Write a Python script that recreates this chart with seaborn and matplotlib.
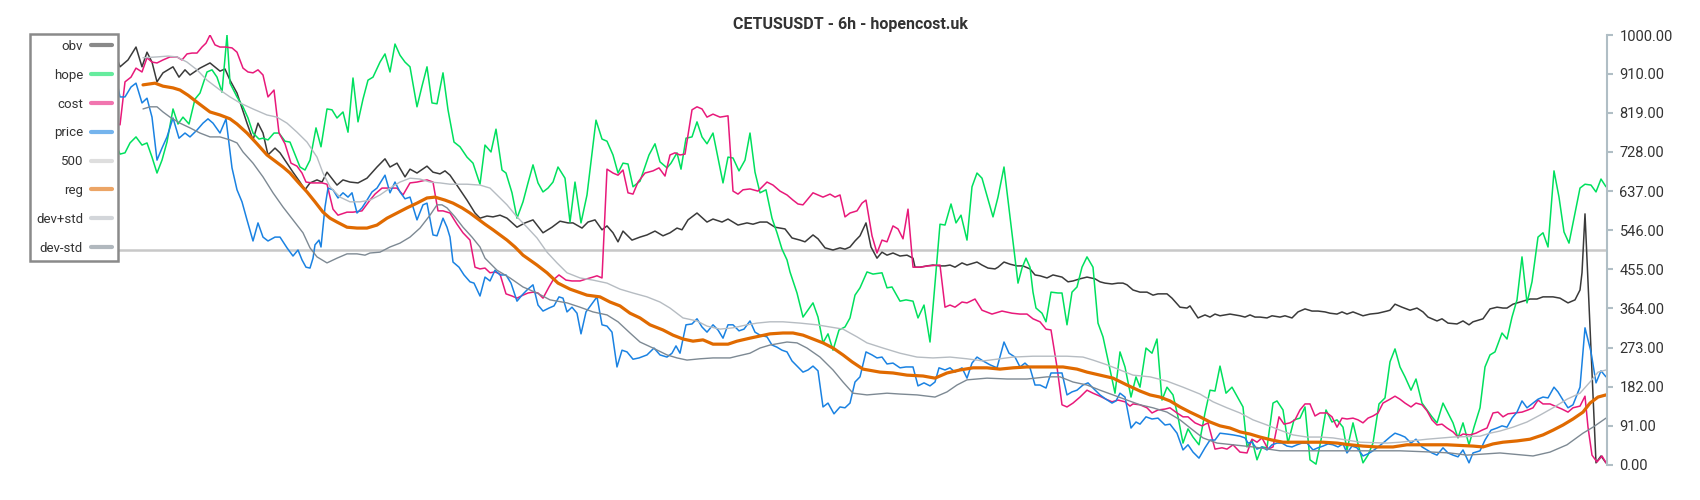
import matplotlib
matplotlib.use("Agg")
from matplotlib import pyplot as plt
import seaborn as sns

# time positions (t) and values
obv = [(111, 942), (115, 960), (120, 926), (128, 942), (136, 972), (142, 926), (147, 960), (152, 937),
       (157, 891), (163, 912), (173, 926), (179, 902), (185, 919), (190, 907), (200, 923), (210, 935),
       (220, 916), (225, 921), (230, 895), (237, 865), (247, 795), (253, 756), (258, 795), (263, 772),
       (268, 721), (275, 737), (280, 726), (287, 702), (293, 681), (300, 658), (305, 640), (310, 656),
       (317, 663), (322, 658), (327, 681), (337, 651), (343, 663), (350, 658), (358, 656), (367, 667),
       (377, 693), (385, 712), (390, 693), (397, 702), (405, 670), (410, 688), (417, 679), (427, 695),
       (433, 681), (440, 677), (445, 684), (450, 674), (458, 647), (467, 616), (475, 586), (480, 574),
       (487, 579), (493, 577), (500, 581), (507, 574), (517, 553), (525, 563), (533, 570), (543, 540),
       (552, 553), (560, 567), (568, 563), (573, 563), (582, 551), (588, 565), (595, 570), (602, 547),
       (607, 556), (613, 540), (618, 519), (623, 544), (632, 523), (640, 530), (647, 535), (655, 544),
       (663, 533), (670, 540), (677, 551), (682, 547), (688, 570), (697, 586), (707, 565), (713, 572),
       (722, 565), (728, 572), (738, 558), (747, 563), (753, 560), (760, 565), (767, 565), (775, 553),
       (785, 549), (792, 528), (800, 523), (805, 519), (813, 535), (818, 526), (825, 505), (833, 500),
       (840, 505), (845, 502), (850, 507), (855, 521), (860, 533), (866, 563), (871, 507), (877, 481),
       (882, 495), (887, 488), (893, 493), (900, 486), (907, 488), (913, 481), (915, 460), (920, 460),
       (927, 463), (933, 465), (940, 463), (945, 463), (950, 465), (955, 460), (962, 470), (967, 465),
       (977, 472), (982, 465), (988, 458), (995, 456), (998, 460), (1004, 472), (1010, 467), (1017, 463),
       (1023, 463), (1030, 456), (1035, 442), (1040, 440), (1047, 435), (1053, 442), (1062, 437),
       (1068, 426), (1073, 428), (1080, 433), (1087, 437), (1095, 433), (1100, 426), (1105, 423),
       (1112, 421), (1118, 423), (1123, 423), (1127, 419), (1133, 407), (1140, 402), (1147, 402),
       (1153, 395), (1158, 398), (1167, 398), (1172, 388), (1180, 367), (1187, 365), (1190, 370),
       (1198, 342), (1205, 349), (1210, 344), (1215, 351), (1220, 347), (1230, 351), (1240, 347),
       (1245, 344), (1250, 349), (1255, 344), (1260, 344), (1267, 342), (1272, 347), (1280, 344),
       (1285, 347), (1292, 342), (1298, 356), (1305, 363), (1312, 358), (1318, 358), (1325, 356),
       (1330, 353), (1337, 351), (1342, 356), (1347, 351), (1353, 356), (1363, 347), (1370, 351),
       (1378, 353), (1387, 358), (1390, 360), (1395, 374), (1402, 367), (1410, 360), (1417, 365),
       (1423, 356), (1428, 344), (1437, 335), (1442, 340), (1448, 330), (1457, 328), (1463, 335),
       (1469, 326), (1473, 333), (1483, 340), (1490, 363), (1497, 367), (1503, 365), (1507, 365),
       (1513, 374), (1520, 379), (1530, 386), (1537, 386), (1543, 391), (1553, 391), (1560, 388),
       (1568, 377), (1575, 384), (1580, 407), (1582, 447), (1585, 584), (1596, 5), (1601, 21), (1606, 5)]

hope = [(111, 751), (115, 751), (120, 723), (125, 726), (130, 749), (136, 763), (142, 744), (147, 749),
        (152, 716), (157, 679), (162, 709), (167, 751), (173, 828), (178, 793), (183, 809), (189, 793),
        (195, 851), (200, 865), (207, 914), (212, 919), (217, 902), (222, 867), (227, 1000), (230, 888),
        (237, 856), (243, 833), (248, 807), (253, 772), (259, 758), (263, 760), (268, 756), (274, 772),
        (279, 772), (285, 753), (290, 751), (296, 716), (300, 693), (305, 686), (310, 709), (316, 784),
        (321, 740), (327, 828), (332, 826), (337, 807), (343, 821), (348, 774), (353, 900), (358, 798),
        (363, 851), (368, 895), (373, 902), (380, 937), (385, 956), (390, 914), (395, 979), (400, 953),
        (405, 937), (410, 926), (417, 833), (422, 881), (427, 926), (432, 842), (437, 840), (443, 912),
        (448, 826), (454, 751), (460, 740), (467, 716), (473, 702), (480, 653), (485, 744), (491, 728),
        (496, 781), (502, 686), (506, 679), (512, 633), (517, 574), (523, 612), (528, 656), (533, 698),
        (538, 656), (543, 635), (548, 644), (553, 658), (558, 693), (565, 667), (570, 565), (575, 658),
        (581, 563), (587, 628), (596, 802), (602, 758), (607, 753), (613, 721), (618, 679), (623, 702),
        (628, 700), (633, 647), (640, 660), (649, 721), (655, 747), (660, 705), (667, 691), (671, 702),
        (677, 726), (681, 688), (686, 760), (692, 763), (697, 798), (702, 763), (707, 747), (713, 772),
        (717, 726), (723, 656), (728, 716), (733, 714), (739, 684), (745, 709), (750, 772), (755, 681),
        (760, 633), (766, 640), (772, 574), (777, 540), (782, 502), (787, 477), (790, 449), (797, 400),
        (803, 344), (813, 377), (818, 344), (823, 284), (828, 305), (833, 267), (839, 314), (845, 321),
        (850, 342), (855, 395), (860, 412), (867, 449), (873, 444), (882, 447), (887, 412), (892, 414),
        (900, 381), (906, 384), (913, 381), (918, 342), (924, 372), (930, 286), (933, 367), (940, 560),
        (945, 558), (951, 607), (956, 563), (961, 581), (967, 523), (972, 647), (977, 679), (982, 667),
        (993, 577), (998, 623), (1004, 693), (1018, 423), (1022, 458), (1026, 481), (1030, 460),
        (1033, 402), (1036, 365), (1042, 353), (1046, 333), (1051, 402), (1058, 400), (1062, 400),
        (1067, 326), (1072, 402), (1077, 414), (1082, 460), (1087, 484), (1093, 460), (1098, 330),
        (1103, 298), (1108, 244), (1115, 167), (1120, 263), (1125, 228), (1131, 158), (1136, 205),
        (1140, 181), (1146, 272), (1152, 260), (1157, 293), (1162, 151), (1167, 181), (1173, 163),
        (1178, 112), (1183, 51), (1188, 84), (1193, 65), (1199, 47), (1205, 121), (1210, 174),
        (1215, 172), (1220, 230), (1226, 167), (1232, 181), (1237, 160), (1243, 135), (1247, 42),
        (1252, 58), (1257, 12), (1262, 42), (1267, 40), (1273, 144), (1277, 149), (1283, 128), (1288, 51),
        (1294, 105), (1300, 109), (1305, 135), (1310, 12), (1316, 2), (1321, 58), (1326, 128), (1332, 100),
        (1337, 105), (1343, 88), (1347, 35), (1353, 98), (1358, 49), (1363, 5), (1368, 23), (1373, 51),
        (1379, 142), (1385, 156), (1390, 240), (1395, 270), (1400, 228), (1405, 205), (1411, 174),
        (1416, 200), (1422, 144), (1427, 128), (1432, 112), (1437, 98), (1443, 144), (1448, 121),
        (1453, 98), (1458, 63), (1463, 98), (1469, 47), (1474, 88), (1480, 133), (1485, 228), (1490, 256),
        (1495, 263), (1502, 307), (1507, 293), (1512, 344), (1517, 384), (1522, 484), (1527, 377),
        (1532, 426), (1538, 530), (1543, 540), (1548, 507), (1554, 684), (1559, 623), (1564, 542),
        (1569, 516), (1575, 586), (1580, 644), (1585, 653), (1591, 651), (1596, 635), (1601, 665),
        (1606, 647)]

cost = [(111, 656), (115, 798), (120, 791), (125, 891), (131, 902), (136, 923), (142, 914), (147, 947),
        (152, 937), (157, 935), (163, 942), (170, 949), (177, 949), (182, 942), (187, 956), (192, 958),
        (197, 958), (202, 972), (206, 981), (210, 1000), (215, 977), (220, 972), (226, 972), (232, 970),
        (237, 960), (243, 923), (248, 914), (253, 912), (258, 919), (263, 907), (268, 856), (274, 872),
        (279, 772), (285, 747), (291, 702), (297, 695), (302, 679), (306, 658), (312, 656), (317, 656),
        (322, 656), (327, 653), (333, 595), (338, 581), (347, 588), (353, 588), (362, 591), (370, 616),
        (375, 630), (382, 644), (388, 644), (397, 644), (403, 628), (410, 656), (417, 658), (427, 663),
        (433, 658), (438, 591), (443, 591), (450, 586), (457, 560), (463, 540), (470, 523), (475, 460),
        (480, 456), (485, 458), (490, 447), (495, 449), (500, 444), (506, 398), (512, 393), (517, 388),
        (523, 395), (528, 400), (533, 402), (538, 400), (543, 388), (549, 414), (553, 430), (559, 442),
        (566, 430), (572, 428), (580, 428), (587, 433), (593, 437), (597, 440), (602, 435), (607, 688),
        (613, 679), (618, 674), (623, 686), (628, 633), (633, 630), (638, 658), (645, 679), (653, 684),
        (659, 691), (665, 672), (670, 721), (675, 726), (680, 721), (685, 723), (692, 826), (697, 833),
        (702, 828), (707, 809), (713, 816), (720, 809), (728, 812), (733, 637), (738, 630), (743, 640),
        (750, 642), (758, 637), (767, 658), (773, 651), (780, 637), (787, 628), (793, 616), (798, 607),
        (803, 605), (813, 633), (823, 623), (830, 630), (835, 623), (840, 628), (845, 577), (850, 586),
        (857, 591), (862, 609), (866, 616), (872, 533), (877, 493), (882, 523), (887, 519), (893, 556),
        (898, 549), (903, 526), (908, 595), (913, 460), (920, 460), (928, 463), (940, 465), (945, 367),
        (950, 372), (955, 367), (962, 379), (967, 377), (975, 386), (982, 360), (992, 351), (1002, 358),
        (1012, 353), (1020, 351), (1027, 351), (1033, 340), (1040, 333), (1046, 316), (1051, 314),
        (1057, 228), (1062, 140), (1067, 135), (1073, 144), (1080, 158), (1087, 174), (1093, 167),
        (1100, 160), (1106, 153), (1112, 147), (1118, 151), (1125, 147), (1130, 137), (1133, 142),
        (1140, 140), (1147, 133), (1152, 121), (1158, 128), (1165, 130), (1170, 133), (1177, 121),
        (1183, 112), (1188, 112), (1195, 98), (1202, 91), (1208, 98), (1215, 37), (1222, 40), (1227, 37),
        (1233, 47), (1240, 30), (1247, 28), (1252, 60), (1257, 53), (1262, 63), (1268, 37), (1273, 42),
        (1279, 112), (1284, 95), (1290, 98), (1295, 105), (1300, 128), (1305, 142), (1310, 142),
        (1315, 114), (1320, 121), (1327, 121), (1332, 112), (1337, 88), (1342, 109), (1347, 107),
        (1353, 109), (1358, 105), (1363, 98), (1368, 109), (1373, 114), (1378, 121), (1383, 144),
        (1390, 153), (1395, 160), (1400, 153), (1405, 144), (1411, 135), (1416, 144), (1422, 140),
        (1427, 126), (1432, 105), (1437, 93), (1442, 95), (1447, 86), (1453, 77), (1458, 65), (1463, 72),
        (1470, 70), (1476, 74), (1482, 81), (1487, 86), (1493, 121), (1498, 123), (1503, 112), (1508, 119),
        (1515, 121), (1522, 123), (1528, 128), (1533, 133), (1538, 151), (1543, 142), (1550, 142),
        (1555, 137), (1562, 130), (1568, 123), (1573, 133), (1580, 137), (1585, 160), (1588, 88),
        (1592, 23), (1597, 7), (1602, 21), (1606, 5)]

price = [(111, 914), (115, 912), (120, 856), (125, 856), (131, 879), (136, 888), (142, 842), (147, 853),
         (152, 809), (157, 709), (162, 737), (167, 763), (173, 807), (179, 760), (185, 772), (190, 763),
         (197, 779), (203, 795), (208, 805), (213, 795), (220, 772), (226, 805), (232, 691), (237, 640),
         (242, 612), (247, 570), (253, 521), (258, 563), (263, 530), (268, 521), (275, 530), (280, 530),
         (287, 505), (293, 486), (298, 500), (302, 477), (306, 460), (310, 458), (313, 481), (315, 512),
         (319, 523), (321, 507), (325, 600), (328, 644), (333, 640), (338, 621), (343, 633), (348, 623),
         (352, 633), (357, 586), (362, 598), (367, 616), (372, 635), (377, 644), (385, 674), (390, 633),
         (395, 658), (400, 635), (405, 619), (410, 623), (417, 570), (423, 605), (427, 609), (433, 535),
         (437, 533), (443, 574), (447, 553), (450, 530), (453, 472), (459, 460), (464, 442), (470, 426),
         (474, 423), (480, 393), (485, 437), (490, 428), (495, 453), (500, 442), (506, 442), (511, 423),
         (517, 381), (522, 395), (527, 407), (533, 419), (538, 372), (543, 358), (549, 365), (554, 370),
         (559, 391), (563, 388), (567, 356), (572, 367), (577, 353), (581, 305), (586, 356), (591, 372),
         (597, 391), (602, 326), (607, 323), (612, 309), (617, 228), (622, 267), (627, 263), (633, 246),
         (639, 249), (647, 256), (654, 272), (660, 256), (667, 251), (672, 260), (676, 277), (680, 260),
         (686, 326), (692, 328), (697, 340), (702, 321), (707, 309), (713, 326), (718, 314), (723, 295),
         (728, 326), (733, 326), (739, 312), (744, 316), (750, 335), (755, 309), (760, 302), (767, 298),
         (772, 279), (777, 274), (782, 267), (787, 263), (792, 242), (798, 228), (803, 216), (808, 221),
         (813, 230), (818, 219), (823, 135), (828, 144), (834, 119), (840, 135), (845, 133), (850, 144),
         (855, 193), (860, 205), (866, 263), (872, 256), (877, 249), (882, 251), (887, 235), (893, 237),
         (900, 226), (906, 228), (913, 228), (918, 184), (924, 191), (930, 184), (935, 193), (939, 226),
         (945, 221), (950, 226), (955, 216), (962, 226), (967, 202), (972, 237), (977, 251), (983, 242),
         (990, 233), (997, 226), (1004, 286), (1009, 260), (1015, 251), (1020, 228), (1025, 237),
         (1030, 226), (1035, 186), (1040, 186), (1046, 179), (1051, 214), (1057, 214), (1062, 214),
         (1067, 163), (1072, 170), (1077, 174), (1083, 186), (1088, 191), (1093, 179), (1100, 163),
         (1106, 153), (1112, 144), (1116, 149), (1120, 167), (1125, 158), (1131, 86), (1136, 100),
         (1140, 95), (1146, 112), (1152, 107), (1158, 109), (1165, 93), (1170, 95), (1177, 74), (1183, 35),
         (1188, 47), (1193, 30), (1199, 16), (1205, 40), (1210, 58), (1215, 58), (1220, 74), (1227, 72),
         (1233, 70), (1240, 67), (1245, 63), (1248, 51), (1252, 53), (1257, 37), (1262, 42), (1267, 35),
         (1272, 47), (1277, 51), (1282, 51), (1287, 44), (1292, 42), (1297, 47), (1302, 51), (1307, 51),
         (1313, 35), (1318, 40), (1323, 44), (1328, 49), (1333, 47), (1338, 42), (1343, 49), (1347, 28),
         (1352, 44), (1357, 40), (1363, 21), (1368, 26), (1373, 33), (1378, 42), (1383, 51), (1390, 65),
         (1395, 74), (1400, 70), (1405, 65), (1411, 51), (1416, 60), (1422, 42), (1427, 35), (1432, 28),
         (1437, 23), (1443, 40), (1448, 28), (1453, 23), (1458, 19), (1463, 35), (1469, 5), (1473, 28),
         (1480, 33), (1485, 58), (1491, 81), (1497, 86), (1502, 91), (1507, 88), (1512, 109), (1517, 123),
         (1522, 149), (1527, 133), (1533, 144), (1538, 153), (1543, 158), (1548, 156), (1554, 181),
         (1558, 170), (1563, 151), (1568, 133), (1573, 140), (1580, 181), (1585, 319), (1591, 263),
         (1596, 191), (1601, 219), (1606, 205)]

reg = [(143, 884), (155, 888), (163, 881), (173, 877), (180, 872), (188, 860), (198, 842), (210, 821),
       (220, 814), (230, 805), (237, 793), (247, 772), (257, 747), (267, 721), (275, 707), (283, 693),
       (290, 679), (298, 658), (307, 635), (315, 612), (323, 588), (330, 574), (337, 565), (347, 553),
       (357, 551), (367, 551), (377, 558), (387, 574), (397, 586), (407, 598), (417, 609), (427, 621),
       (435, 623), (445, 616), (453, 609), (462, 598), (470, 586), (477, 574), (485, 560), (493, 547),
       (500, 535), (507, 523), (515, 507), (523, 488), (537, 465), (547, 447), (558, 423), (570, 409),
       (587, 395), (600, 391), (610, 379), (620, 370), (630, 353), (640, 342), (650, 326), (663, 314),
       (673, 302), (683, 293), (693, 288), (703, 291), (713, 281), (728, 281), (737, 288), (750, 295),
       (760, 300), (770, 305), (783, 307), (793, 307), (803, 302), (813, 293), (823, 284), (833, 272),
       (843, 256), (852, 240), (863, 223), (880, 216), (893, 214), (907, 209), (923, 207), (935, 202),
       (947, 214), (960, 221), (973, 226), (987, 226), (1000, 223), (1013, 226), (1027, 228), (1040, 228),
       (1053, 228), (1063, 228), (1077, 223), (1087, 216), (1100, 209), (1113, 202), (1127, 186),
       (1140, 172), (1150, 163), (1160, 158), (1170, 149), (1180, 135), (1190, 123), (1200, 112),
       (1210, 100), (1220, 91), (1230, 86), (1240, 77), (1250, 72), (1260, 65), (1272, 58), (1283, 53),
       (1297, 53), (1310, 53), (1323, 53), (1337, 51), (1350, 47), (1363, 44), (1377, 42), (1393, 42),
       (1407, 47), (1420, 47), (1447, 47), (1473, 44), (1483, 42), (1493, 49), (1503, 53), (1517, 56),
       (1530, 60), (1543, 70), (1553, 81), (1563, 93), (1573, 107), (1583, 123), (1590, 144), (1598, 158),
       (1606, 163)]

dev_plus = [(143, 947), (157, 949), (168, 951), (177, 949), (187, 937), (197, 919), (207, 895), (220, 872),
            (230, 856), (240, 842), (253, 828), (267, 814), (277, 809), (287, 795), (297, 774), (307, 751),
            (317, 716), (323, 679), (330, 647), (340, 623), (350, 612), (360, 612), (370, 616), (380, 628),
            (390, 644), (400, 658), (410, 667), (420, 665), (430, 658), (440, 656), (450, 653), (467, 653),
            (480, 651), (490, 644), (497, 628), (507, 605), (517, 577), (527, 553), (537, 528), (547, 495),
            (557, 470), (567, 447), (580, 435), (593, 430), (607, 423), (620, 409), (633, 400), (647, 391),
            (660, 379), (670, 365), (683, 342), (697, 335), (707, 323), (720, 316), (733, 319), (747, 326),
            (757, 330), (770, 333), (783, 333), (800, 330), (817, 326), (830, 321), (843, 316), (857, 298),
            (867, 284), (883, 272), (900, 260), (917, 251), (933, 249), (950, 251), (967, 247), (983, 242),
            (1000, 247), (1013, 251), (1033, 253), (1067, 253), (1083, 251), (1093, 244), (1107, 233),
            (1120, 221), (1133, 209), (1150, 205), (1167, 195), (1183, 181), (1200, 165), (1213, 147),
            (1227, 133), (1240, 121), (1253, 105), (1267, 93), (1280, 81), (1293, 70), (1307, 65),
            (1320, 65), (1333, 63), (1347, 58), (1360, 53), (1387, 51), (1400, 53), (1427, 60), (1453, 65),
            (1480, 67), (1490, 74), (1500, 79), (1513, 88), (1527, 100), (1540, 116), (1553, 133),
            (1567, 153), (1580, 167), (1590, 193), (1598, 216), (1606, 221)]

dev_minus = [(143, 828), (150, 833), (157, 833), (163, 821), (170, 809), (180, 795), (190, 784), (200, 772),
             (210, 763), (220, 763), (230, 756), (237, 749), (243, 728), (253, 702), (263, 670), (273, 633),
             (283, 600), (293, 570), (303, 540), (310, 505), (317, 484), (327, 470), (337, 481), (347, 491),
             (357, 491), (365, 488), (370, 493), (380, 495), (390, 507), (400, 516), (410, 530), (420, 551),
             (430, 581), (437, 605), (442, 605), (447, 598), (455, 577), (463, 553), (472, 530), (480, 507),
             (485, 481), (497, 453), (510, 435), (523, 414), (537, 400), (550, 384), (567, 377), (580, 367),
             (593, 356), (607, 349), (618, 333), (630, 307), (640, 286), (653, 272), (667, 256), (677, 249),
             (687, 244), (700, 247), (713, 249), (730, 249), (737, 253), (750, 260), (760, 272), (770, 279),
             (787, 286), (797, 284), (807, 272), (820, 251), (833, 221), (843, 193), (853, 167), (867, 163),
             (887, 167), (900, 165), (917, 163), (935, 158), (947, 170), (957, 186), (967, 198), (987, 202),
             (1007, 200), (1027, 200), (1047, 205), (1060, 205), (1073, 193), (1087, 186), (1100, 174),
             (1113, 163), (1127, 151), (1140, 140), (1153, 133), (1167, 123), (1180, 105), (1193, 81),
             (1203, 63), (1217, 51), (1233, 47), (1253, 42), (1280, 33), (1333, 33), (1400, 33), (1433, 30),
             (1450, 28), (1467, 23), (1500, 28), (1533, 21), (1550, 30), (1567, 47), (1583, 74), (1593, 88),
             (1606, 109)]

level = 500
y_ticks = [0, 91, 182, 273, 364, 455, 546, 637, 728, 819, 910, 1000]
t_range = (111, 1607)
title = "CETUSUSDT - 6h - hopencost.uk"

sns.set_theme(style="white")
plt.rcParams['font.family'] = ['Roboto', 'DejaVu Sans']

fig = plt.figure(figsize=(17, 5), dpi=100)
ax = fig.add_axes([111 / 1700, 0.07, (1607 - 111) / 1700, 0.86])

series = [
    ("obv", obv, "#3a3a3a", 1.1),
    ("hope", hope, "#00e05e", 1.1),
    ("cost", cost, "#e8197a", 1.1),
    ("price", price, "#1a82e2", 1.1),
]
for name, data, color, lw in series:
    t, v = zip(*data)
    sns.lineplot(x=list(t), y=list(v), ax=ax, color=color, lw=lw, label=name, sort=False)

ax.axhline(level, color="#c8c8c8", lw=1.8, label="500", zorder=1)

t, v = zip(*reg)
sns.lineplot(x=list(t), y=list(v), ax=ax, color="#e06a00", lw=2.3, label="reg", sort=False)
t, v = zip(*dev_plus)
sns.lineplot(x=list(t), y=list(v), ax=ax, color="#b6bcc2", lw=1.0, label="dev+std", sort=False)
t, v = zip(*dev_minus)
sns.lineplot(x=list(t), y=list(v), ax=ax, color="#7d8993", lw=1.0, label="dev-std", sort=False)

ax.set_xlim(*t_range)
ax.set_ylim(0, 1000)
ax.set_xticks([])
ax.yaxis.tick_right()
ax.set_yticks(y_ticks)
ax.set_yticklabels([f"{y:.2f}" for y in y_ticks])
ax.tick_params(axis="y", length=4, width=1.5, color="#b0bec5", labelcolor="#333333",
               labelsize=10.5, pad=5)
for side in ["top", "left", "bottom"]:
    ax.spines[side].set_visible(False)
ax.spines["right"].set_color("#b0bec5")
ax.spines["right"].set_linewidth(1.5)
ax.set_xlabel("")
ax.set_ylabel("")

fig.suptitle(title, y=0.965, fontsize=11.5, fontweight="bold", color="#333333")

leg = ax.legend(loc="upper left", bbox_to_anchor=(30 / 1700, 1 - 34 / 500),
                bbox_transform=fig.transFigure, borderaxespad=0, markerfirst=False,
                fontsize=9.5, labelspacing=1.2, handlelength=1.6, handletextpad=0.6,
                borderpad=0.45, fancybox=False, framealpha=1, edgecolor="#8a8a8a",
                labelcolor="#333333")
leg.get_frame().set_linewidth(1.8)
for line in leg.get_lines():
    line.set_linewidth(3)
    line.set_alpha(0.6)

fig.savefig("out.png", dpi=100, facecolor="white")
